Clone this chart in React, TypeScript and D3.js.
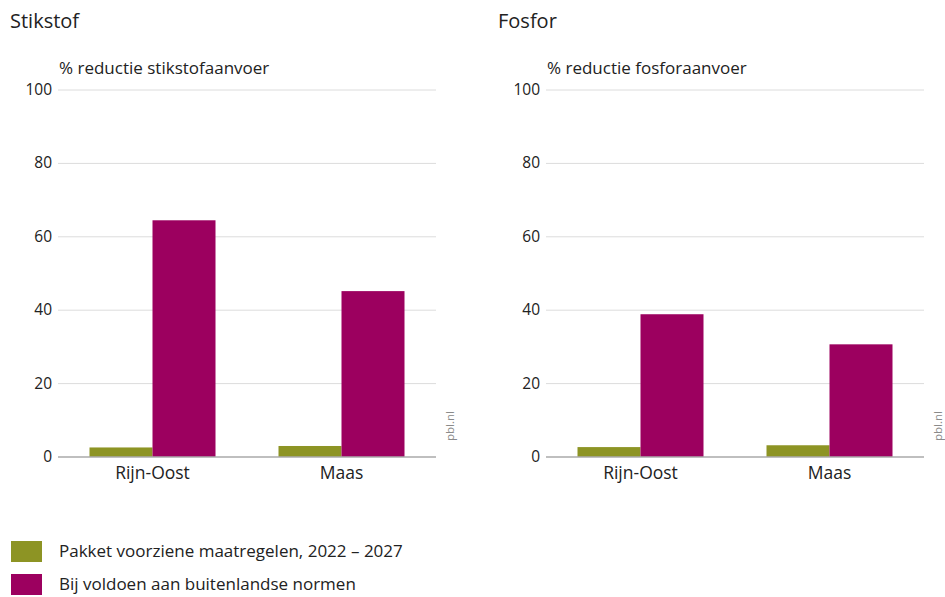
import React from "react";
import * as d3 from "d3";

const categories = ["Rijn-Oost", "Maas"];
const seriesNames = ["Pakket voorziene maatregelen, 2022 – 2027", "Bij voldoen aan buitenlandse normen"];
const stikstofPakket = [2.6, 3.0];
const stikstofNormen = [64.5, 45.2];
const fosforPakket = [2.7, 3.2];
const fosforNormen = [38.9, 30.7];
const yTicks = [0, 20, 40, 60, 80, 100];
const colors = ["#8d9424", "#9c005f"];

const FONT = "'Open Sans', 'Noto Sans', sans-serif";

type PanelProps = {
  x0: number;
  title: string;
  axisTitle: string;
  pakket: number[];
  normen: number[];
};

function Panel({ x0, title, axisTitle, pakket, normen }: PanelProps) {
  const left = x0 + 48;
  const right = x0 + 426;
  const y = d3.scaleLinear().domain([0, 100]).range([457, 90]);
  const x = d3.scaleBand().domain(categories).range([left, right]).paddingInner(0).paddingOuter(0);
  const inner = d3.scaleBand().domain(["0", "1"]).range([x.bandwidth() / 6, (x.bandwidth() * 5) / 6]);
  const series = [pakket, normen];
  return (
    <g>
      <text x={x0} y={28} fontSize={20} fill="#222" fontFamily={FONT}>{title}</text>
      <text x={left + 1} y={74} fontSize={17} fill="#222" fontFamily={FONT}>{axisTitle}</text>
      {yTicks.map((t) => (
        <g key={t}>
          {t > 0 && <line x1={left} x2={right} y1={y(t)} y2={y(t)} stroke="#dcdcdc" strokeWidth={1} />}
          <text x={left - 6} y={y(t) + 5} textAnchor="end" fontSize={15.5} fill="#222" fontFamily={FONT}>{t}</text>
        </g>
      ))}
      {categories.map((c, i) => (
        <g key={c}>
          {series.map((s, k) => (
            <rect
              key={k}
              x={(x(c) as number) + (inner(String(k)) as number)}
              y={y(s[i])}
              width={inner.bandwidth()}
              height={y(0) - y(s[i])}
              fill={colors[k]}
            />
          ))}
          <text x={(x(c) as number) + x.bandwidth() / 2} y={479} textAnchor="middle" fontSize={17.5} fill="#222" fontFamily={FONT}>{c}</text>
        </g>
      ))}
      <line x1={left} x2={right} y1={y(0)} y2={y(0)} stroke="#aaaaaa" strokeWidth={1.5} />
      <text
        transform={`translate(${right + 18},441) rotate(-90)`}
        fontSize={11.5}
        fill="#8a8a8a"
        fontFamily={FONT}
      >pbl.nl</text>
    </g>
  );
}

export default function App() {
  return (
    <svg width={945} height={597} style={{ position: "absolute", left: 0, top: 0, background: "#fff" }}>
      <rect width={945} height={597} fill="#fff" />
      <Panel x0={10} title="Stikstof" axisTitle="% reductie stikstofaanvoer" pakket={stikstofPakket} normen={stikstofNormen} />
      <Panel x0={498} title="Fosfor" axisTitle="% reductie fosforaanvoer" pakket={fosforPakket} normen={fosforNormen} />
      {seriesNames.map((n, i) => (
        <g key={n}>
          <rect x={11} y={541 + i * 33} width={31} height={21} fill={colors[i]} />
          <text x={59} y={557 + i * 33} fontSize={17} fill="#222" fontFamily={FONT}>{n}</text>
        </g>
      ))}
    </svg>
  );
}
